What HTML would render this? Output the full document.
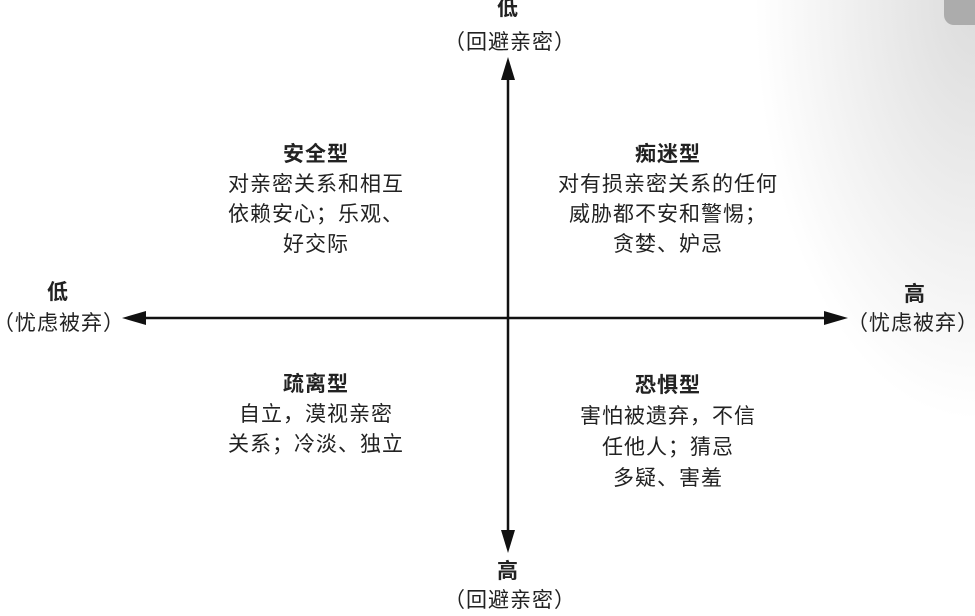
<!DOCTYPE html>
<html><head><meta charset="utf-8"><style>
html,body{margin:0;padding:0}
body{width:975px;height:610px;position:relative;overflow:hidden;background:#fff;font-family:"Liberation Sans","Noto Sans CJK SC",sans-serif;color:#222;}
.bg{position:absolute;left:0;top:0;width:975px;height:610px;background:radial-gradient(ellipse 220px 420px at 975px 0px,#dcdcdc,rgba(255,255,255,0));}
.tab{position:absolute;left:944px;top:-10px;width:40px;height:35px;background:#acacac;border-radius:10px;}
.t{position:absolute;width:320px;margin-left:-160px;text-align:center;font-size:21px;letter-spacing:1px;line-height:30px;white-space:nowrap}
.b{font-weight:bold}
</style></head><body>
<div class="bg"></div><div class="tab"></div>
<svg width="975" height="610" style="position:absolute;left:0;top:0">
<line x1="508" y1="75" x2="508" y2="535" stroke="#111" stroke-width="2.5"/>
<line x1="142" y1="318" x2="830" y2="318" stroke="#111" stroke-width="2.5"/>
<polygon points="508,57 501,80 515,80" fill="#111"/>
<polygon points="508,553 501,530 515,530" fill="#111"/>
<polygon points="122,318 146,311 146,325" fill="#111"/>
<polygon points="848,318 824,311 824,325" fill="#111"/>
</svg>
<div class="t b" style="left:508px;top:-6px">低</div>
<div class="t" style="left:510px;top:28px">（回避亲密）</div>
<div class="t b" style="left:508px;top:557px">高</div>
<div class="t" style="left:510px;top:586px">（回避亲密）</div>
<div class="t b" style="left:58px;top:278px">低</div>
<div class="t" style="left:59px;top:309px">（忧虑被弃）</div>
<div class="t b" style="left:915px;top:280px">高</div>
<div class="t" style="left:913px;top:309px">（忧虑被弃）</div>
<div class="t" style="left:316px;top:140px"><span class="b">安全型</span><br>对亲密关系和相互<br>依赖安心；乐观、<br>好交际</div>
<div class="t" style="left:668px;top:140px"><span class="b">痴迷型</span><br>对有损亲密关系的任何<br>威胁都不安和警惕；<br>贪婪、妒忌</div>
<div class="t" style="left:316px;top:370px"><span class="b">疏离型</span><br>自立，漠视亲密<br>关系；冷淡、独立</div>
<div class="t" style="left:668px;top:370px;line-height:31px"><span class="b">恐惧型</span><br>害怕被遗弃，不信<br>任他人；猜忌<br>多疑、害羞</div>
</body></html>
